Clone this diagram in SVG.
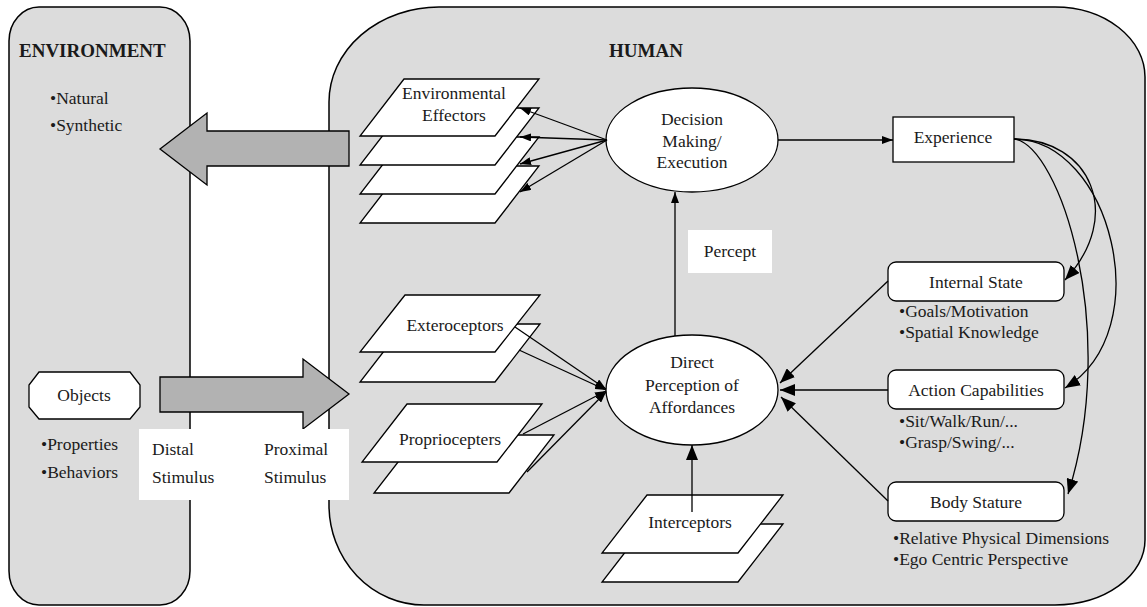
<svg xmlns="http://www.w3.org/2000/svg" width="1147" height="607" viewBox="0 0 1147 607">
<style>
text{font-family:"Liberation Serif","Times New Roman",serif;font-size:17.5px;fill:#1a1a1a}
.b{font-weight:bold;font-size:19px}
.m{text-anchor:middle}
.area{fill:#dcdcdc;stroke:#000;stroke-width:1.5}
.blk{fill:#b2b2b2;stroke:#000;stroke-width:1.3}
.w{fill:#fff;stroke:#000;stroke-width:1.3}
.lab{fill:#fff;stroke:none}
.c{fill:none;stroke:#000;stroke-width:1.3}
.s{marker-end:url(#as)}
.l{marker-end:url(#al)}
</style>
<defs>
<marker id="as" markerUnits="userSpaceOnUse" markerWidth="11" markerHeight="8" refX="11" refY="4" orient="auto"><path d="M0,0 L11,4 L0,8 Z" fill="#000"/></marker>
<marker id="al" markerUnits="userSpaceOnUse" markerWidth="15" markerHeight="12" refX="15" refY="6" orient="auto"><path d="M0,0 L15,6 L0,12 Z" fill="#000"/></marker>
</defs>

<g id="environment">
<rect class="area" x="9" y="7" width="181" height="598" rx="30" ry="34"/>
<text class="b" x="19" y="57">ENVIRONMENT</text>
<text x="50" y="104">•Natural</text>
<text x="50" y="131">•Synthetic</text>
</g>

<g id="human">
<path class="area" d="M439,7 H1055 A90,70 0 0 1 1145,77 V540 A90,65 0 0 1 1055,605 H424 A95,100 0 0 1 329,505 V102 A110,95 0 0 1 439,7 Z"/>
<text class="b" x="609" y="57">HUMAN</text>
</g>

<g id="objects">
<polygon class="w" points="39,372 130,372 140,385 140,407 130,419 39,419 29,407 29,385"/>
<text class="m" x="84" y="401">Objects</text>
<text x="41" y="450">•Properties</text>
<text x="41" y="478">•Behaviors</text>
</g>

<g id="action-arrow">
<polygon class="blk" points="349,131 207,131 207,113 160,149 207,185 207,166 349,166"/>
</g>
<g id="stimulus-arrow">
<polygon class="blk" points="160,377 303,377 303,359 349,394 303,429 303,412 160,412"/>
</g>
<g id="stimulus-label">
<rect class="lab" x="139" y="429" width="210" height="71"/>
<text x="152" y="455">Distal</text>
<text x="152" y="483">Stimulus</text>
<text x="264" y="455">Proximal</text>
<text x="264" y="483">Stimulus</text>
</g>

<g id="effectors">
<polygon class="w" points="404,166 539,166 495,223 360,223"/>
<polygon class="w" points="404,137 539,137 495,194 360,194"/>
<polygon class="w" points="404,108 539,108 495,165 360,165"/>
<polygon class="w" points="404,79 539,79 495,136 360,136"/>
<text class="m" x="454" y="99">Environmental</text>
<text class="m" x="454" y="121">Effectors</text>
</g>

<g id="exteroceptors">
<polygon class="w" points="405,324 540,324 495,382 360,382"/>
<polygon class="w" points="405,295 540,295 495,352 360,352"/>
<text class="m" x="455" y="331">Exteroceptors</text>
</g>

<g id="proprioceptors">
<polygon class="w" points="419,435 554,435 509,493 374,493"/>
<polygon class="w" points="407,404 542,404 497,462 362,462"/>
<text class="m" x="450" y="445">Propriocepters</text>
</g>

<g id="interceptors">
<polygon class="w" points="647,524 783,524 738,582 602,582"/>
<polygon class="w" points="647,495 783,495 738,553 602,553"/>
<text class="m" x="690" y="528">Interceptors</text>
</g>

<g id="decision">
<ellipse class="w" cx="692" cy="140" rx="86" ry="52"/>
<text class="m" x="692" y="125">Decision</text>
<text class="m" x="692" y="147">Making/</text>
<text class="m" x="692" y="168">Execution</text>
</g>

<g id="perception">
<ellipse class="w" cx="692" cy="390" rx="86" ry="55"/>
<text class="m" x="692" y="368">Direct</text>
<text class="m" x="692" y="391">Perception of</text>
<text class="m" x="692" y="413">Affordances</text>
</g>

<g id="percept-label">
<rect class="lab" x="688" y="230" width="84" height="43"/>
<text class="m" x="730" y="257">Percept</text>
</g>

<g id="experience">
<rect class="w" x="893" y="117" width="121" height="45"/>
<text class="m" x="953" y="143">Experience</text>
</g>

<g id="internal-state">
<rect class="w" x="888" y="262" width="176" height="39" rx="8"/>
<text class="m" x="976" y="288">Internal State</text>
<text x="899" y="317">•Goals/Motivation</text>
<text x="899" y="338">•Spatial Knowledge</text>
</g>

<g id="action-capabilities">
<rect class="w" x="888" y="370" width="176" height="39" rx="8"/>
<text class="m" x="976" y="396">Action Capabilities</text>
<text x="899" y="427">•Sit/Walk/Run/...</text>
<text x="899" y="448">•Grasp/Swing/...</text>
</g>

<g id="body-stature">
<rect class="w" x="888" y="482" width="176" height="39" rx="8"/>
<text class="m" x="976" y="508">Body Stature</text>
<text x="893" y="544">•Relative Physical Dimensions</text>
<text x="893" y="565">•Ego Centric Perspective</text>
</g>

<g id="connectors">
<line class="c s" x1="607" y1="140" x2="520" y2="108"/>
<line class="c s" x1="607" y1="140" x2="520" y2="137"/>
<line class="c s" x1="607" y1="140" x2="520" y2="164"/>
<line class="c s" x1="607" y1="140" x2="520" y2="192"/>
<line class="c s" x1="778" y1="140" x2="893" y2="140"/>
<line class="c s" x1="675" y1="336" x2="675" y2="192"/>
<line class="c l" x1="692" y1="512" x2="692" y2="445"/>
<line class="c s" x1="515" y1="327" x2="606" y2="389"/>
<line class="c s" x1="519" y1="350" x2="606" y2="390"/>
<line class="c s" x1="523" y1="434" x2="606" y2="391"/>
<line class="c s" x1="527" y1="472" x2="606" y2="392"/>
<line class="c l" x1="888" y1="281" x2="780" y2="383"/>
<line class="c l" x1="888" y1="390" x2="780" y2="390"/>
<line class="c l" x1="888" y1="501" x2="781" y2="397"/>
<path class="c l" d="M1014,139 C1090,139 1125,215 1065,280"/>
<path class="c l" d="M1014,139 C1110,139 1160,330 1065,388"/>
<path class="c l" d="M1014,139 C1060,145 1120,330 1068,494"/>
</g>
</svg>
